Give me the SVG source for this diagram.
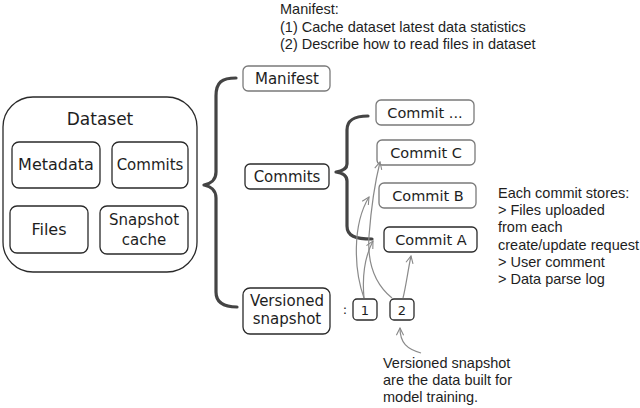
<svg xmlns="http://www.w3.org/2000/svg" width="640" height="408" viewBox="0 0 640 408">
<defs>
<marker id="ah" viewBox="0 0 10 10" refX="9" refY="5" markerWidth="9" markerHeight="9" markerUnits="userSpaceOnUse" orient="auto">
<path d="M1,1 L9,5 L1,9" fill="none" stroke="#888" stroke-width="1.2"/>
</marker>
</defs>
<style>
.box{fill:#fff;stroke:#2a2a2a;stroke-width:1.3}
.lbox{fill:#fff;stroke:#7a7a7a;stroke-width:1.3}
.hw{font-family:"DejaVu Sans",sans-serif;fill:#1e1e1e;text-anchor:middle}
.note{font-family:"Liberation Sans",Arial,sans-serif;font-size:14.5px;fill:#1e1e1e}
.brace{fill:none;stroke:#444;stroke-width:3.2;stroke-linecap:round;stroke-linejoin:round}
.arr{fill:none;stroke:#8a8a8a;stroke-width:1.2;marker-end:url(#ah)}
</style>
<rect width="640" height="408" fill="#fff"/>

<g id="dataset">
<rect class="box" x="3" y="97" width="194" height="175" rx="30"/>
<text class="hw" x="100" y="125" font-size="17">Dataset</text>
</g>
<g id="metadata">
<rect class="box" x="12" y="142" width="88" height="46" rx="7"/>
<text class="hw" x="56" y="170" font-size="16">Metadata</text>
</g>
<g id="commits-inner">
<rect class="box" x="112" y="142" width="76" height="46" rx="7"/>
<text class="hw" x="150" y="170" font-size="15">Commits</text>
</g>
<g id="files">
<rect class="box" x="10" y="206" width="78" height="47" rx="7"/>
<text class="hw" x="49" y="235" font-size="16">Files</text>
</g>
<g id="snapshot-cache">
<rect class="box" x="100" y="206" width="88" height="48" rx="7"/>
<text class="hw" x="144" y="225" font-size="15">Snapshot</text>
<text class="hw" x="144" y="245" font-size="15">cache</text>
</g>

<g id="manifest">
<rect class="lbox" x="243" y="66" width="87" height="25" rx="5"/>
<text class="hw" x="287" y="84" font-size="15">Manifest</text>
</g>
<g id="commits">
<rect class="box" x="245" y="164" width="84" height="25" rx="5"/>
<text class="hw" x="287" y="182" font-size="15">Commits</text>
</g>
<g id="versioned-snapshot">
<rect class="box" x="243" y="288" width="87" height="46" rx="7"/>
<text class="hw" x="287" y="306" font-size="15">Versioned</text>
<text class="hw" x="287" y="324" font-size="15">snapshot</text>
</g>

<g id="commit-more">
<rect class="lbox" x="376" y="100" width="98" height="25" rx="5"/>
<text class="hw" x="425" y="118" font-size="14.5">Commit ...</text>
</g>
<g id="commit-c">
<rect class="lbox" x="377" y="140" width="98" height="25" rx="5"/>
<text class="hw" x="426" y="158" font-size="14.5">Commit C</text>
</g>
<g id="commit-b">
<rect class="lbox" x="379" y="183" width="97" height="25" rx="5"/>
<text class="hw" x="428" y="201" font-size="14.5">Commit B</text>
</g>
<g id="commit-a">
<rect class="box" x="384" y="227" width="93" height="25" rx="5"/>
<text class="hw" x="431" y="245" font-size="14.5">Commit A</text>
</g>

<g id="snap-1">
<rect class="box" x="353" y="299" width="24" height="21" rx="4"/>
<text class="hw" x="365" y="315" font-size="13">1</text>
</g>
<g id="snap-2">
<rect class="box" x="390" y="299" width="24" height="21" rx="4"/>
<text class="hw" x="402" y="315" font-size="13">2</text>
</g>
<text class="hw" x="345" y="314" font-size="13">:</text>

<g id="connectors">
<path class="brace" d="M236,78 C222,78 216,82 216,96 L216,172 C216,180 210,184 204,185 C210,186 216,190 216,198 L216,292 C216,303 224,307 237,307"/>
<path class="brace" d="M368,116 C354,116 347,120 347,130 L347,164 C347,168 343,171 336,172 C343,173 347,176 347,181 L347,226 C347,236 355,239 372,239"/>
<path class="arr" d="M364,298 C354,270 352,225 369,197"/>
<path class="arr" d="M364,298 C362,276 364,258 373,241"/>
<path class="arr" d="M392,298 C376,285 367,266 369,236 C371,210 374,186 380,162"/>
<path class="arr" d="M403,298 C406,286 408,270 411,256"/>
<path class="arr" d="M421,353 C407,349 400,343 400,328"/>
</g>

<g id="notes">
<text class="note" font-size="14" x="280" y="14">Manifest:</text>
<text class="note" font-size="14" x="280" y="31.5">(1) Cache dataset latest data statistics</text>
<text class="note" font-size="14" x="280" y="49">(2) Describe how to read files in dataset</text>
<text class="note" x="498" y="198">Each commit stores:</text>
<text class="note" x="498" y="215">&gt; Files uploaded</text>
<text class="note" x="498" y="232">from each</text>
<text class="note" x="498" y="250">create/update request</text>
<text class="note" x="498" y="267">&gt; User comment</text>
<text class="note" x="498" y="284">&gt; Data parse log</text>
<text class="note" x="383" y="368">Versioned snapshot</text>
<text class="note" x="383" y="385">are the data built for</text>
<text class="note" x="383" y="402">model training.</text>
</g>
</svg>
